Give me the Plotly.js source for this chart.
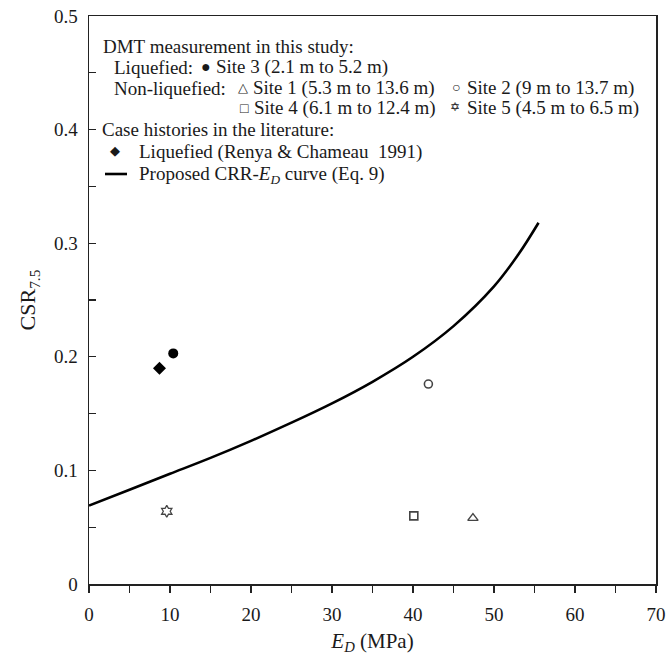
<!DOCTYPE html>
<html>
<head>
<meta charset="utf-8">
<script src="https://cdn.plot.ly/plotly-3.0.1.min.js"></script>
<style>
  html, body { margin: 0; padding: 0; background: #fff; }
  #chart { width: 669px; height: 655px; }
</style>
</head>
<body>
<div id="chart"></div>
<script>
// Proposed CRR-ED curve (Eq. 9), sampled along its length
const curveED  = [0, 5, 10, 15, 20, 25, 30, 35, 40, 45, 50, 53, 55.5];
const curveCSR = [0.069, 0.083, 0.097, 0.111, 0.126, 0.142, 0.159, 0.178, 0.200, 0.227, 0.262, 0.290, 0.318];

// DMT measurements in this study
const site3ED = [10.4], site3CSR = [0.203];   // liquefied
const site1ED = [47.4], site1CSR = [0.058];   // non-liquefied
const site2ED = [41.9], site2CSR = [0.176];
const site4ED = [40.1], site4CSR = [0.060];
const site5ED = [9.6],  site5CSR = [0.064];

// Case histories in the literature
const renyaED = [8.7], renyaCSR = [0.190];

const xTicks = [0, 10, 20, 30, 40, 50, 60, 70];
const yTicks = [0, 0.1, 0.2, 0.3, 0.4, 0.5];

const FONT = "'Liberation Serif', 'Times New Roman', serif";
const INK = '#1a1a1a';

// plot-area geometry in page pixels, used to place the key
const PL = 89, PR = 656, PT = 16, PB = 584;
const W = 669, H = 655;
const px = v => (v - PL) / (PR - PL);
const py = v => (PB - v) / (PB - PT);

const traces = [
  { x: curveED, y: curveCSR, mode: 'lines', line: { color: '#000', width: 2.6, shape: 'spline', smoothing: 1 }, hoverinfo: 'skip' },
  { x: site3ED, y: site3CSR, mode: 'markers', marker: { symbol: 'circle', size: 10, color: '#000' } },
  { x: renyaED, y: renyaCSR, mode: 'markers', marker: { symbol: 'diamond', size: 10, color: '#000' } },
  { x: site1ED, y: site1CSR, mode: 'markers', marker: { symbol: 'triangle-up-open', size: 9, color: '#444', line: { width: 1.4, color: '#444' } } },
  { x: site2ED, y: site2CSR, mode: 'markers', marker: { symbol: 'circle-open', size: 8, color: '#444', line: { width: 1.6, color: '#444' } } },
  { x: site4ED, y: site4CSR, mode: 'markers', marker: { symbol: 'square-open', size: 8, color: '#444', line: { width: 1.6, color: '#444' } } },
  { x: site5ED, y: site5CSR, mode: 'markers', marker: { symbol: 'hexagram-open', size: 9, color: '#444', line: { width: 1.3, color: '#444' } } }
];

// key text: [text, x (px), centre y (px), anchor, size]
const keyItems = [
  ['DMT measurement in this study:', 101, 46, 'left', 19],
  ['Liquefied:', 112, 67, 'left', 19],
  ['\u25CF', 206, 66, 'center', 16],
  ['Site 3 (2.1 m to 5.2 m)', 214, 67, 'left', 19],
  ['Non-liquefied:', 112, 88, 'left', 19],
  ['\u25B3', 243, 87, 'center', 13],
  ['Site 1 (5.3 m to 13.6 m)', 251, 88, 'left', 19],
  ['\u25CB', 456, 87, 'center', 14],
  ['Site 2 (9 m to 13.7 m)', 465, 88, 'left', 19],
  ['\u25A1', 244, 108, 'center', 14],
  ['Site 4 (6.1 m to 12.4 m)', 252, 108, 'left', 19],
  ['\u2721', 455, 107, 'center', 12],
  ['Site 5 (4.5 m to 6.5 m)', 465, 108, 'left', 19],
  ['Case histories in the literature:', 100, 130, 'left', 19],
  ['\u25C6', 115, 151, 'center', 13],
  ['Liquefied (Renya &amp; Chameau  1991)', 137, 152, 'left', 19],
  ['Proposed CRR-<i>E</i><sub><i>D</i></sub> curve (Eq. 9)', 137, 175, 'left', 19]
];

const annotations = keyItems.map(([t, x, y, anchor, size]) => ({
  text: t, xref: 'paper', yref: 'paper', x: px(x), y: py(y),
  xanchor: anchor, yanchor: 'middle', showarrow: false,
  font: { family: FONT, size: size, color: INK }
}));

// key swatch for the proposed curve
const shapes = [{
  type: 'line', xref: 'paper', yref: 'paper',
  x0: px(105), x1: px(127), y0: py(174), y1: py(174),
  line: { color: '#000', width: 2.6 }
}];

const layout = {
  width: W, height: H,
  margin: { l: PL, r: W - PR, t: PT, b: H - PB },
  paper_bgcolor: '#fff', plot_bgcolor: '#fff',
  showlegend: false,
  font: { family: FONT, color: INK },
  xaxis: {
    range: [0, 70], tickvals: xTicks, ticktext: xTicks.map(String),
    ticks: 'outside', ticklen: 7, tickwidth: 1.3, tickcolor: '#222',
    minor: { dtick: 5, tick0: 0, ticks: 'outside', ticklen: 7, tickwidth: 1.3, tickcolor: '#222' },
    showline: true, linecolor: '#222', linewidth: 1.5, mirror: true,
    showgrid: false, zeroline: false,
    ticklabelstandoff: 6,
    tickfont: { family: FONT, size: 19, color: INK },
    title: { text: '<i>E</i><sub><i>D</i></sub> (MPa)', font: { family: FONT, size: 21, color: INK }, standoff: 10 }
  },
  yaxis: {
    range: [0, 0.5], tickvals: yTicks, ticktext: yTicks.map(String),
    ticks: 'inside', ticklen: 7, tickwidth: 1.3, tickcolor: '#222',
    minor: { dtick: 0.05, tick0: 0, ticks: 'inside', ticklen: 7, tickwidth: 1.3, tickcolor: '#222' },
    showline: true, linecolor: '#222', linewidth: 1.5, mirror: true,
    showgrid: false, zeroline: false,
    ticklabelstandoff: 6,
    tickfont: { family: FONT, size: 19, color: INK },
    title: { text: 'CSR<sub>7.5</sub>', font: { family: FONT, size: 22, color: INK }, standoff: 12 }
  },
  annotations: annotations,
  shapes: shapes
};

Plotly.newPlot('chart', traces, layout, { displayModeBar: false, staticPlot: true });
</script>
</body>
</html>
